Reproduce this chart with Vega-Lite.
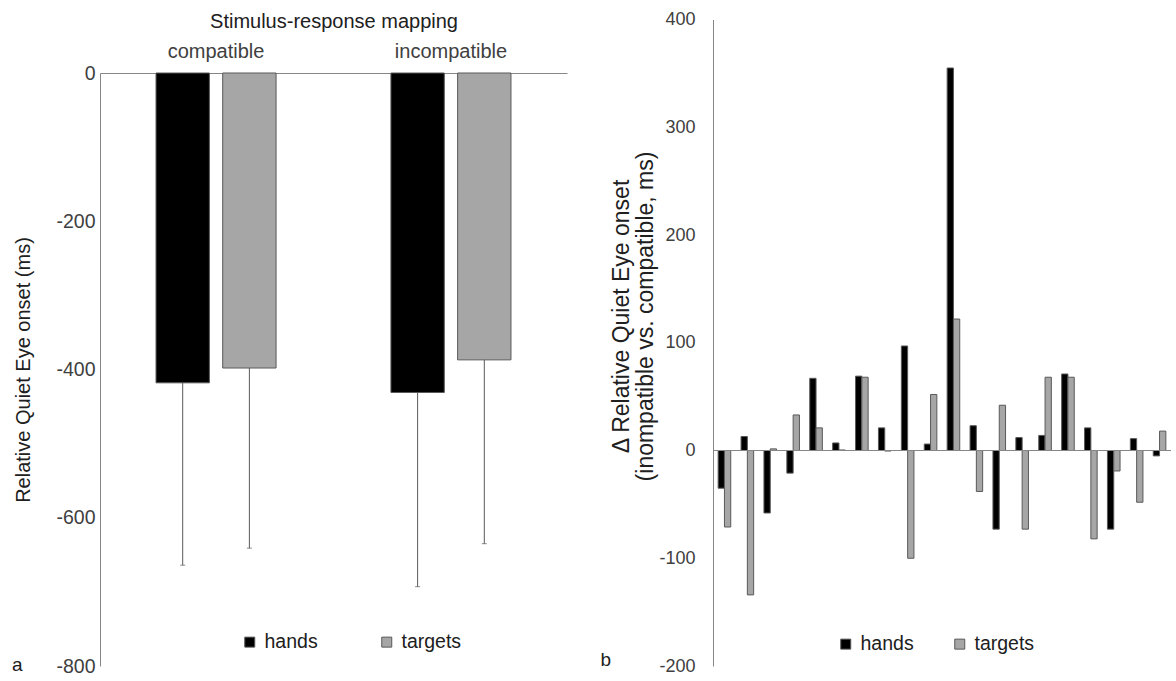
{
  "$schema": "https://vega.github.io/schema/vega-lite/v6.json",
  "background": "white",
  "padding": {"left": 11, "top": 10, "right": 0, "bottom": 0},
  "datasets": {
    "means": [
      {"mapping": "compatible", "series": "hands", "mean": -418, "low": -664},
      {"mapping": "compatible", "series": "targets", "mean": -398, "low": -641},
      {"mapping": "incompatible", "series": "hands", "mean": -431, "low": -693},
      {"mapping": "incompatible", "series": "targets", "mean": -387, "low": -635}
    ],
    "diffs": [
      {"participant": 1, "series": "hands", "value": -35}, {"participant": 1, "series": "targets", "value": -71},
      {"participant": 2, "series": "hands", "value": 13}, {"participant": 2, "series": "targets", "value": -134},
      {"participant": 3, "series": "hands", "value": -58}, {"participant": 3, "series": "targets", "value": 1.5},
      {"participant": 4, "series": "hands", "value": -21}, {"participant": 4, "series": "targets", "value": 33},
      {"participant": 5, "series": "hands", "value": 67}, {"participant": 5, "series": "targets", "value": 21},
      {"participant": 6, "series": "hands", "value": 7}, {"participant": 6, "series": "targets", "value": 0.5},
      {"participant": 7, "series": "hands", "value": 69}, {"participant": 7, "series": "targets", "value": 68},
      {"participant": 8, "series": "hands", "value": 21}, {"participant": 8, "series": "targets", "value": -0.5},
      {"participant": 9, "series": "hands", "value": 97}, {"participant": 9, "series": "targets", "value": -100},
      {"participant": 10, "series": "hands", "value": 6}, {"participant": 10, "series": "targets", "value": 52},
      {"participant": 11, "series": "hands", "value": 355}, {"participant": 11, "series": "targets", "value": 122},
      {"participant": 12, "series": "hands", "value": 23}, {"participant": 12, "series": "targets", "value": -38},
      {"participant": 13, "series": "hands", "value": -73}, {"participant": 13, "series": "targets", "value": 42},
      {"participant": 14, "series": "hands", "value": 12}, {"participant": 14, "series": "targets", "value": -73},
      {"participant": 15, "series": "hands", "value": 14}, {"participant": 15, "series": "targets", "value": 68},
      {"participant": 16, "series": "hands", "value": 71}, {"participant": 16, "series": "targets", "value": 68},
      {"participant": 17, "series": "hands", "value": 21}, {"participant": 17, "series": "targets", "value": -82},
      {"participant": 18, "series": "hands", "value": -73}, {"participant": 18, "series": "targets", "value": -19},
      {"participant": 19, "series": "hands", "value": 11}, {"participant": 19, "series": "targets", "value": -48},
      {"participant": 20, "series": "hands", "value": -5}, {"participant": 20, "series": "targets", "value": 18}
    ],
    "zero": [{"zero": 0}]
  },
  "spacing": 33,
  "align": "none",
  "hconcat": [
    {
      "width": 467,
      "height": 593,
      "data": {"name": "means"},
      "title": {"text": "a", "orient": "bottom", "anchor": "start", "frame": "bounds", "dx": -2, "dy": -20, "offset": 0, "fontSize": 19, "fontWeight": "normal", "color": "#202020"},
      "encoding": {
        "x": {"field": "mapping", "type": "nominal", "sort": ["compatible", "incompatible"],
          "scale": {"paddingInner": 0.489, "paddingOuter": 0.2385},
          "axis": {"orient": "top", "title": "Stimulus-response mapping", "labelAngle": 0, "ticks": false, "labelPadding": 12, "titlePadding": 10, "labelFontSize": 20, "titleFontSize": 20, "domainColor": "#868686"}},
        "xOffset": {"field": "series", "sort": ["hands", "targets"], "scale": {"paddingInner": 0.2, "paddingOuter": 0}}
      },
      "layer": [
        {
          "mark": {"type": "rule", "color": "#595959", "strokeWidth": 1},
          "encoding": {
            "y": {"field": "mean", "type": "quantitative", "scale": {"domain": [-800, 0], "nice": false},
              "axis": {"title": "Relative Quiet Eye onset (ms)", "values": [-800, -600, -400, -200, 0], "labelExpr": "replace(datum.label, '−', '-')", "ticks": false, "grid": false, "labelPadding": 5, "titlePadding": 22, "labelFontSize": 19.5, "titleFontSize": 20, "domainColor": "#868686"}},
            "y2": {"field": "low"}
          }
        },
        {
          "mark": {"type": "tick", "size": 5, "thickness": 1, "color": "#595959"},
          "encoding": {
            "y": {"field": "low", "type": "quantitative", "scale": {"domain": [-800, 0], "nice": false},
              "axis": {"title": "Relative Quiet Eye onset (ms)", "values": [-800, -600, -400, -200, 0], "labelExpr": "replace(datum.label, '−', '-')", "ticks": false, "grid": false, "labelPadding": 5, "titlePadding": 22, "labelFontSize": 19.5, "titleFontSize": 20, "domainColor": "#868686"}}
          }
        },
        {
          "mark": {"type": "bar", "stroke": "#595959", "strokeWidth": 1},
          "encoding": {
            "y": {"field": "mean", "type": "quantitative", "scale": {"domain": [-800, 0], "nice": false},
              "axis": {"title": "Relative Quiet Eye onset (ms)", "values": [-800, -600, -400, -200, 0], "labelExpr": "replace(datum.label, '−', '-')", "ticks": false, "grid": false, "labelPadding": 5, "titlePadding": 22, "labelFontSize": 19.5, "titleFontSize": 20, "domainColor": "#868686"}},
            "color": {"field": "series", "type": "nominal", "scale": {"domain": ["hands", "targets"], "range": ["#000000", "#a6a6a6"]},
              "legend": {"orient": "none", "legendX": 140, "legendY": 559, "direction": "horizontal", "title": null, "symbolType": "square", "symbolSize": 100, "symbolStrokeColor": "#595959", "symbolStrokeWidth": 1, "labelFontSize": 19.5, "labelOffset": 5, "columnPadding": 59, "padding": 0, "labelColor": "#202020"}}
          }
        }
      ]
    },
    {
      "width": 458,
      "height": 593,
      "title": {"text": "b", "orient": "bottom", "anchor": "start", "frame": "bounds", "dx": -10, "dy": -69, "offset": 0, "fontSize": 19, "fontWeight": "normal", "color": "#202020"},
      "layer": [
        {
          "data": {"name": "diffs"},
          "mark": {"type": "bar", "stroke": "#595959", "strokeWidth": 1},
          "encoding": {
            "x": {"field": "participant", "type": "ordinal", "scale": {"paddingInner": 0.45, "paddingOuter": 0.225}, "axis": null},
            "xOffset": {"field": "series", "sort": ["hands", "targets"], "scale": {"paddingInner": 0, "paddingOuter": 0}},
            "y": {"field": "value", "type": "quantitative", "scale": {"domain": [-200, 400], "nice": false, "range": [593, -53.5]},
              "axis": {"title": ["Δ Relative Quiet Eye onset", "(inompatible vs. compatible, ms)"], "values": [-200, -100, 0, 100, 200, 300, 400], "labelExpr": "replace(datum.label, '−', '-')", "ticks": false, "grid": false, "labelPadding": 18, "labelFontSize": 18, "titleFontSize": 23, "titleLineHeight": 24, "titleX": -79.5, "titleY": 243, "domainColor": "#868686"}},
            "color": {"field": "series", "type": "nominal", "scale": {"domain": ["hands", "targets"], "range": ["#000000", "#a6a6a6"]},
              "legend": {"orient": "none", "legendX": 123, "legendY": 561, "direction": "horizontal", "title": null, "symbolType": "square", "symbolSize": 100, "symbolStrokeColor": "#595959", "symbolStrokeWidth": 1, "labelFontSize": 19.5, "labelOffset": 5, "columnPadding": 36, "padding": 0, "labelColor": "#202020"}}
          }
        },
        {
          "data": {"name": "zero"},
          "mark": {"type": "rule", "color": "#868686", "strokeWidth": 1},
          "encoding": {
            "y": {"field": "zero", "type": "quantitative", "scale": {"domain": [-200, 400], "nice": false, "range": [593, -53.5]},
              "axis": {"title": ["Δ Relative Quiet Eye onset", "(inompatible vs. compatible, ms)"], "values": [-200, -100, 0, 100, 200, 300, 400], "labelExpr": "replace(datum.label, '−', '-')", "ticks": false, "grid": false, "labelPadding": 18, "labelFontSize": 18, "titleFontSize": 23, "titleLineHeight": 24, "titleX": -79.5, "titleY": 243, "domainColor": "#868686"}}
          }
        }
      ]
    }
  ],
  "resolve": {"scale": {"color": "independent", "x": "independent", "xOffset": "independent", "y": "independent"}, "legend": {"color": "independent"}},
  "config": {
    "font": "Liberation Sans",
    "view": {"stroke": null},
    "axis": {"labelFont": "Liberation Sans", "titleFont": "Liberation Sans", "titleFontWeight": "normal", "labelColor": "#404040", "titleColor": "#202020"},
    "legend": {"labelFont": "Liberation Sans"},
    "title": {"font": "Liberation Sans"}
  }
}
